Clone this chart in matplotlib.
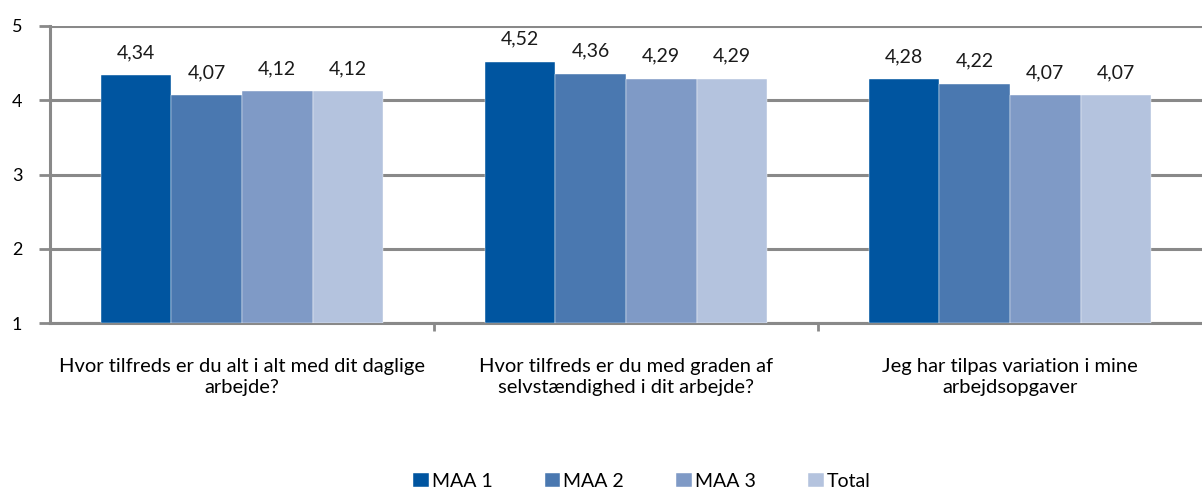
import numpy as np
import matplotlib
matplotlib.use('Agg')
import matplotlib.pyplot as plt

# data
categories = ['Hvor tilfreds er du alt i alt med dit daglige\narbejde?',
              'Hvor tilfreds er du med graden af\nselvstændighed i dit arbejde?',
              'Jeg har tilpas variation i mine\narbejdsopgaver']
series = ['MAA 1', 'MAA 2', 'MAA 3', 'Total']
maa1 = [4.34, 4.52, 4.28]
maa2 = [4.07, 4.36, 4.22]
maa3 = [4.12, 4.29, 4.07]
total = [4.12, 4.29, 4.07]
colors = ['#0055A0', '#4A78B0', '#7F9AC6', '#B4C3DE']

plt.rcParams['font.family'] = ['Lato', 'DejaVu Sans']

fig = plt.figure(figsize=(12.02, 4.91), dpi=100)
ax = fig.add_axes([50 / 1202, 1 - 323 / 491, 1 - 50 / 1202, (323 - 26) / 491])

x = np.arange(len(categories))
width = 0.184
grid_col = '#898989'

for i, (name, vals) in enumerate(zip(series, [maa1, maa2, maa3, total])):
    pos = x + (i - 1.5) * width
    ax.bar(pos, np.array(vals) - 1, width, bottom=1, color=colors[i], label=name,
           zorder=3, edgecolor='white', linewidth=0.3)
    for p, v in zip(pos, vals):
        ax.text(p, v + 0.19, f'{v:.2f}'.replace('.', ','), ha='center', va='bottom',
                fontsize=14, color='#1a1a1a')

ax.set_xlim(-0.5, 2.5)
ax.set_ylim(1, 5)
ax.set_yticks([1, 2, 3, 4, 5])
ax.yaxis.grid(True, color=grid_col, linewidth=2.2, zorder=0)
ax.set_axisbelow(True)

ax.set_xticks(x)
ax.set_xticklabels(categories, fontsize=14.5, linespacing=1.3)
ax.set_xticks([0.5, 1.5], minor=True)
ax.tick_params(axis='x', which='major', length=0, pad=25)
ax.tick_params(axis='x', which='minor', length=6, width=2, color=grid_col)
ax.tick_params(axis='y', length=8, width=2, color=grid_col, labelsize=13, pad=12)

for s in ['top', 'right']:
    ax.spines[s].set_visible(False)
ax.spines['left'].set_color(grid_col)
ax.spines['left'].set_linewidth(2.2)
ax.spines['bottom'].set_color(grid_col)
ax.spines['bottom'].set_linewidth(2.2)

fig.legend(loc='center', bbox_to_anchor=(0.534, 0.02), ncol=4, frameon=False,
           fontsize=14, handlelength=0.8, handleheight=0.8, handletextpad=0.15,
           columnspacing=2.7, borderpad=0)

fig.savefig('out.png', dpi=100)
